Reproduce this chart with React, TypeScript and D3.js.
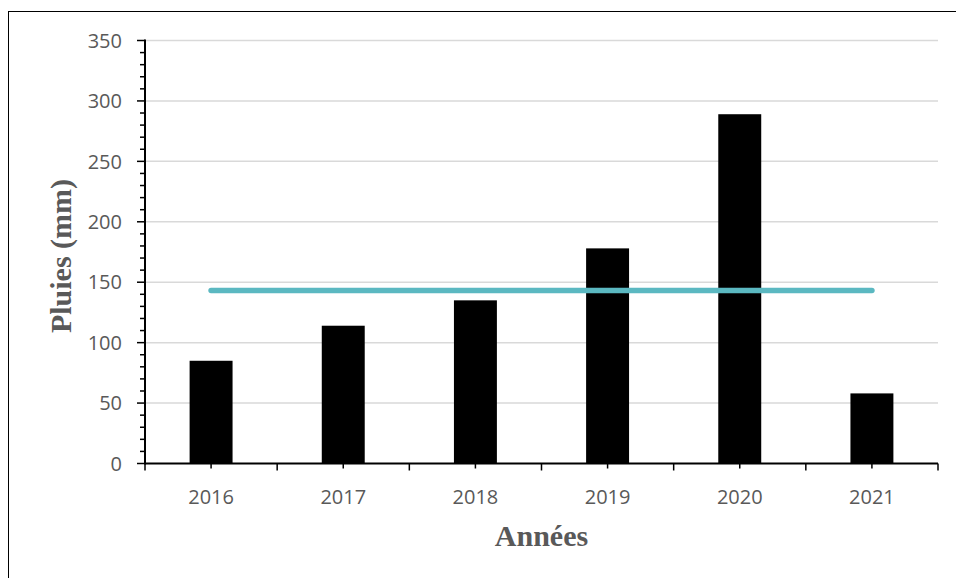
import { useEffect, useRef } from 'react';
import * as d3 from 'd3';

const years = ['2016', '2017', '2018', '2019', '2020', '2021'];
const rain = [85, 114, 135, 178, 289, 58];
const yTicks = [0, 50, 100, 150, 200, 250, 300, 350];

const W = 956, H = 578;
const m = { left: 145, right: 18, top: 40.5, bottom: 114.5 };

export default function App() {
  const ref = useRef<SVGSVGElement>(null);

  useEffect(() => {
    const svg = d3.select(ref.current);
    svg.selectAll('*').remove();

    const x = d3.scaleBand().domain(years).range([m.left, W - m.right]).paddingInner(0).paddingOuter(0);
    const y = d3.scaleLinear().domain([0, 350]).range([H - m.bottom, m.top]);
    const barW = x.bandwidth() * 0.325;
    const mean = d3.mean(rain) as number;
    const gray = '#595959';
    const tickFont = 'Open Sans';

    // frame
    svg.append('rect').attr('x', 8.5).attr('y', 11.5).attr('width', W).attr('height', H)
      .attr('fill', 'none').attr('stroke', '#000').attr('stroke-width', 1);

    // grid
    svg.append('g').selectAll('line').data(yTicks.slice(1)).join('line')
      .attr('x1', m.left).attr('x2', W - m.right)
      .attr('y1', d => y(d)).attr('y2', d => y(d))
      .attr('stroke', '#d9d9d9').attr('stroke-width', 1.5);

    // bars
    svg.append('g').selectAll('rect').data(rain).join('rect')
      .attr('x', (_, i) => (x(years[i]) as number) + x.bandwidth() / 2 - barW / 2)
      .attr('y', d => y(d))
      .attr('width', barW)
      .attr('height', d => y(0) - y(d))
      .attr('fill', '#000');

    // mean line
    svg.append('line')
      .attr('x1', (x(years[0]) as number) + x.bandwidth() / 2)
      .attr('x2', (x(years[years.length - 1]) as number) + x.bandwidth() / 2)
      .attr('y1', y(mean)).attr('y2', y(mean))
      .attr('stroke', '#5bb8c1').attr('stroke-width', 5.5).attr('stroke-linecap', 'round');

    // y axis
    const ya = svg.append('g').attr('transform', `translate(${m.left},0)`);
    ya.append('line').attr('y1', y(350) - 1).attr('y2', y(0) + 1).attr('stroke', '#000').attr('stroke-width', 2);
    const minors = d3.range(0, 351, 10);
    ya.selectAll('.minor').data(minors).join('line').attr('class', 'minor')
      .attr('x1', d => (d % 50 === 0 ? -8 : -5)).attr('x2', 0)
      .attr('y1', d => y(d)).attr('y2', d => y(d))
      .attr('stroke', '#000').attr('stroke-width', 1.5);
    ya.selectAll('text').data(yTicks).join('text')
      .attr('x', -23).attr('y', d => y(d)).attr('dy', '0.36em')
      .attr('text-anchor', 'end').attr('fill', gray)
      .attr('font-family', tickFont).attr('font-size', 20).text(d => d);

    // x axis
    const xa = svg.append('g').attr('transform', `translate(0,${y(0)})`);
    xa.append('line').attr('x1', m.left).attr('x2', W - m.right).attr('stroke', '#000').attr('stroke-width', 2);
    const bounds = years.map(d => x(d) as number).concat([W - m.right]);
    xa.selectAll('.bt').data(bounds).join('line').attr('class', 'bt')
      .attr('x1', d => d).attr('x2', d => d).attr('y1', 0).attr('y2', 7)
      .attr('stroke', '#000').attr('stroke-width', 1.5);
    xa.selectAll('.ct').data(years).join('line').attr('class', 'ct')
      .attr('x1', d => (x(d) as number) + x.bandwidth() / 2).attr('x2', d => (x(d) as number) + x.bandwidth() / 2)
      .attr('y1', 0).attr('y2', 5)
      .attr('stroke', '#000').attr('stroke-width', 1.5);
    xa.selectAll('text').data(years).join('text')
      .attr('x', d => (x(d) as number) + x.bandwidth() / 2).attr('y', 40)
      .attr('text-anchor', 'middle').attr('fill', gray)
      .attr('font-family', tickFont).attr('font-size', 20).text(d => d);

    // titles
    svg.append('text').attr('x', (m.left + W - m.right) / 2).attr('y', 546)
      .attr('text-anchor', 'middle').attr('fill', gray)
      .attr('font-family', 'Liberation Serif').attr('font-weight', 'bold').attr('font-size', 30)
      .text('Années');
    svg.append('text').attr('transform', `translate(71,256) rotate(-90)`)
      .attr('text-anchor', 'middle').attr('fill', gray)
      .attr('font-family', 'Liberation Serif').attr('font-weight', 'bold').attr('font-size', 30)
      .text('Pluies (mm)');
  }, []);

  return (
    <svg ref={ref} width={W} height={H}
      style={{ position: 'absolute', left: 0, top: 0, background: '#fff' }} />
  );
}
